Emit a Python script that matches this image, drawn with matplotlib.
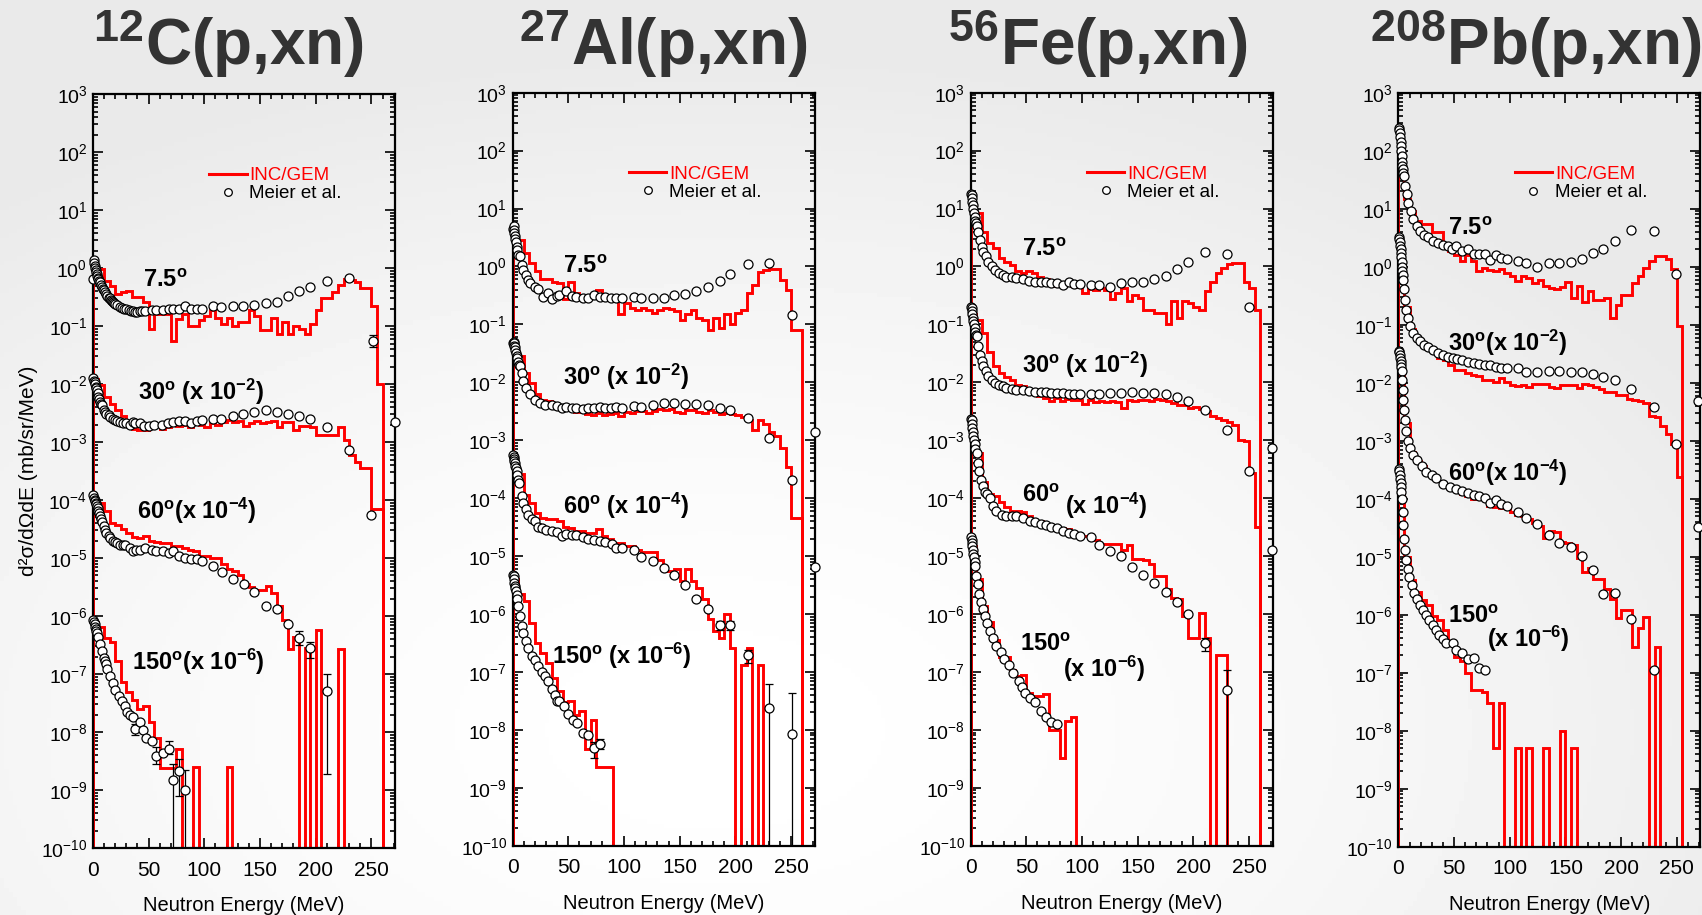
import numpy as np
import matplotlib
matplotlib.use('Agg')
import matplotlib.pyplot as plt
from matplotlib.ticker import LogLocator, MultipleLocator, NullFormatter
from matplotlib.lines import Line2D

plt.rcParams['font.family'] = ['Liberation Sans', 'DejaVu Sans']
plt.rcParams['mathtext.fontset'] = 'custom'
plt.rcParams['mathtext.rm'] = 'Liberation Sans:bold'
plt.rcParams['mathtext.it'] = 'Liberation Sans:bold:italic'
plt.rcParams['mathtext.bf'] = 'Liberation Sans:bold'

# histogram bins (MeV), 5 MeV wide
bin_edges = np.arange(0, 270, 5)

# ---------------- 12C ----------------
c_h7 = [1.1, 0.97, 0.61, 0.5, 0.36, 0.39, 0.4, 0.32, 0.32, 0.26,
        0.09, 0.16, 0.16, 0.16, 0.055, 0.13, 0.16, 0.1, 0.1, 0.125,
        0.15, 0.186, 0.14, 0.11, 0.14, 0.1, 0.117, 0.117, 0.186, 0.15,
        0.087, 0.087, 0.14, 0.074, 0.117, 0.074, 0.1, 0.09, 0.074, 0.11,
        0.19, 0.3, 0.3, 0.39, 0.52, 0.64, 0.62, 0.57, 0.46, 0.46,
        0.22, 0.01]
c_h30 = [0.012, 0.0095, 0.006, 0.0045, 0.0035, 0.0028, 0.0022, 0.0017, 0.0016, 0.0016,
         0.0018, 0.0019, 0.0017, 0.0018, 0.002, 0.0019, 0.002, 0.0018, 0.0021, 0.002,
         0.0018, 0.0021, 0.002, 0.0022, 0.0024, 0.0022, 0.0023, 0.0019, 0.0021, 0.0023,
         0.0021, 0.0022, 0.0023, 0.0018, 0.0022, 0.0022, 0.0016, 0.0019, 0.0019, 0.0018,
         0.0013, 0.0013, 0.0013, 0.0013, 0.0018, 0.0011, 0.0006, 0.00045, 0.00035, 0.00035,
         7e-5, 7e-5]
c_h60 = [1e-4, 9e-5, 6.5e-5, 4e-5, 3.7e-5, 3.2e-5, 2.7e-5, 2.3e-5, 2.2e-5, 2.4e-5,
         2e-5, 1.9e-5, 1.8e-5, 1.8e-5, 1.6e-5, 1.6e-5, 1.5e-5, 1.4e-5, 1.3e-5, 1.1e-5,
         1.1e-5, 1.0e-5, 1.0e-5, 8e-6, 6.5e-6, 6e-6, 5e-6, 3.6e-6, 3.2e-6, 2.8e-6,
         2.8e-6, 3.3e-6, 2.5e-6, 1.5e-6, 8.5e-7, 2.7e-7, 4.4e-7, 0, 2.8e-7, 0,
         5.8e-7, 0, 0, 0, 2.7e-7]
c_h150 = [8e-7, 6.4e-7, 4.1e-7, 3.5e-7, 1.7e-7, 7.3e-8, 4.9e-8, 3.6e-8, 2.5e-8, 2.8e-8,
          1.5e-8, 8e-9, 2.4e-9, 2.4e-9, 2.4e-9, 5e-9, 0, 0, 2.5e-9, 0,
          0, 0, 0, 0, 2.5e-9]

c_e7 = [0.5, 0.8, 1.2, 1.6, 2.0, 2.5, 3.0, 3.5, 4.0, 4.5, 5.0, 5.5, 6.0, 7.0, 8.0, 9, 10, 11, 12, 13,
        14, 15, 16, 17, 18, 19, 20, 22, 24, 26, 28, 30, 32, 34, 36, 38, 40, 42, 44, 47,
        53, 57, 63, 68, 72, 77, 83, 88, 93, 98, 108, 115, 126, 135, 145, 155, 165, 175, 185, 195,
        210, 230, 251]
c_v7 = [0.65, 1.35, 1.2, 1.1, 1.0, 0.92, 0.85, 0.78, 0.72, 0.68, 0.64, 0.6, 0.57, 0.52, 0.48, 0.44, 0.42, 0.38, 0.36, 0.33,
        0.31, 0.3, 0.28, 0.27, 0.26, 0.25, 0.24, 0.23, 0.215, 0.205, 0.2, 0.195, 0.19, 0.185, 0.18, 0.178, 0.175, 0.18, 0.18, 0.185,
        0.19, 0.19, 0.19, 0.2, 0.2, 0.2, 0.22, 0.2, 0.2, 0.2, 0.22, 0.21, 0.22, 0.22, 0.23, 0.25, 0.26, 0.33, 0.40, 0.48,
        0.6, 0.67, 0.055]
c_e30 = [0.5, 1.0, 1.5, 2.0, 2.5, 3.0, 3.6, 4.2, 5.0, 5.8, 6.6, 7.3, 8.0, 9.5, 11, 12, 14, 15.5, 18, 20,
         22, 24.5, 27, 30, 33, 36, 38, 42, 46, 50, 55, 62, 67, 72, 77, 83, 88, 93, 98, 108,
         115, 126, 135, 145, 155, 165, 175, 185, 195, 210, 230, 250, 271]
c_v30 = [0.0125, 0.0115, 0.011, 0.01, 0.009, 0.0085, 0.0078, 0.007, 0.006, 0.0055, 0.0049, 0.0046, 0.0043, 0.0035, 0.0033, 0.0031, 0.0029, 0.0027, 0.0025, 0.0024,
         0.0023, 0.0022, 0.0021, 0.0021, 0.002, 0.0022, 0.0021, 0.0021, 0.0019, 0.0019, 0.002, 0.002, 0.0021, 0.0022, 0.0023, 0.0023, 0.0021, 0.0023, 0.0024, 0.0025,
         0.0025, 0.0028, 0.003, 0.0033, 0.0035, 0.0033, 0.0031, 0.0028, 0.0025, 0.0018, 0.00072, 5.5e-5, 0.0022]
c_e60 = [0.5, 1.0, 1.5, 2.0, 2.5, 3.0, 3.6, 4.2, 5.0, 5.8, 6.6, 7.5, 8.5, 9.5, 11, 12, 14, 15.5, 18, 20,
         22, 24.5, 27, 29, 33, 36, 39, 42, 47, 53, 57, 63, 68, 72, 77, 83, 88, 93, 98, 108,
         115.5, 126, 135.5, 145, 155, 165, 175, 185, 195, 210]
c_v60 = [1.2e-4, 1.1e-4, 1e-4, 9.5e-5, 9e-5, 8.5e-5, 8e-5, 7.4e-5, 6.6e-5, 6e-5, 5.4e-5, 4.8e-5, 4.2e-5, 3.5e-5, 3e-5, 2.7e-5, 2.4e-5, 2.2e-5, 2e-5, 1.9e-5,
         1.8e-5, 1.7e-5, 1.7e-5, 1.7e-5, 1.5e-5, 1.3e-5, 1.4e-5, 1.4e-5, 1.5e-5, 1.4e-5, 1.3e-5, 1.3e-5, 1.2e-5, 1.3e-5, 1.1e-5, 1.0e-5, 9.8e-6, 9.8e-6, 8.8e-6, 7.4e-6,
         5.8e-6, 4.4e-6, 3.6e-6, 2.6e-6, 1.5e-6, 1.3e-6, 7.4e-7, 4.2e-7, 2.8e-7, 5.1e-8]
c_e150 = [0.5, 1.0, 1.5, 2.0, 2.5, 3.0, 4.0, 5.0, 6.6, 8.0, 9.5, 11, 12, 13, 15.5, 18, 20, 23, 26, 29,
          30.5, 33, 36, 38, 42, 45, 48, 53, 57, 63, 68, 72, 77, 83]
c_v150 = [8.4e-7, 7.8e-7, 7.2e-7, 6.6e-7, 6e-7, 5.5e-7, 5e-7, 4.4e-7, 3.3e-7, 2.5e-7, 1.9e-7, 1.7e-7, 1.5e-7, 1.2e-7, 9.3e-8, 7.1e-8, 5.4e-8, 4.1e-8, 3.4e-8, 2.8e-8,
          2.2e-8, 2e-8, 1.8e-8, 1.15e-8, 1.5e-8, 1.1e-8, 7.8e-9, 6.9e-9, 3.8e-9, 4.3e-9, 5e-9, 1.5e-9, 2.1e-9, 1e-9]
# error bars: (energy, value, low, high); low 0 = off the bottom of the axis
c_err = [(251, 0.055, 0.044, 0.069), (185, 4.2e-7, 3.2e-7, 5.5e-7), (195, 2.8e-7, 1.9e-7, 3.6e-7),
         (210, 5.1e-8, 1.9e-9, 1e-7), (38, 1.15e-8, 9e-9, 1.4e-8), (57, 3.8e-9, 2.8e-9, 5.5e-9),
         (68, 5e-9, 4.1e-9, 7e-9), (72, 1.5e-9, 0, 2.8e-9), (77, 2.1e-9, 8e-10, 3.4e-9), (83, 1e-9, 0, 2.2e-9)]

# ---------------- 27Al ----------------
a_h7 = [3.5, 2.9, 1.7, 1.17, 0.82, 0.6, 0.6, 0.53, 0.52, 0.27,
        0.55, 0.35, 0.28, 0.28, 0.32, 0.39, 0.3, 0.28, 0.25, 0.15,
        0.23, 0.19, 0.18, 0.19, 0.18, 0.16, 0.18, 0.19, 0.185, 0.17,
        0.12, 0.15, 0.18, 0.13, 0.12, 0.08, 0.13, 0.087, 0.15, 0.1,
        0.157, 0.18, 0.35, 0.48, 0.8, 0.87, 0.9, 0.9, 0.59, 0.4,
        0.08, 0.08]
a_h30 = [0.04, 0.028, 0.0145, 0.0098, 0.0062, 0.005, 0.0047, 0.0041, 0.0034, 0.0034,
         0.0034, 0.0031, 0.0033, 0.0028, 0.0027, 0.003, 0.0027, 0.0028, 0.003, 0.0026,
         0.0031, 0.003, 0.0032, 0.0032, 0.003, 0.0032, 0.0034, 0.0033, 0.0034, 0.0031,
         0.0029, 0.0033, 0.0033, 0.0031, 0.003, 0.0033, 0.0031, 0.0028, 0.0029, 0.0028,
         0.0027, 0.0025, 0.0022, 0.0015, 0.0022, 0.0019, 0.0014, 0.0012, 0.00074, 0.00035,
         4.5e-5, 4.5e-5]
a_h60 = [3e-4, 2.6e-4, 1.15e-4, 8.2e-5, 5.5e-5, 4.5e-5, 4.3e-5, 4.3e-5, 4e-5, 3.2e-5,
         3e-5, 2.7e-5, 2.7e-5, 2.5e-5, 2.5e-5, 2.9e-5, 2.2e-5, 2.0e-5, 1.7e-5, 1.7e-5,
         1.5e-5, 1.5e-5, 1.3e-5, 1.2e-5, 1.2e-5, 1.2e-5, 8.6e-6, 5.5e-6, 5.5e-6, 6e-6,
         3.7e-6, 6e-6, 3.7e-6, 2.8e-6, 1.8e-6, 8.1e-7, 5e-7, 3.8e-7, 1.0e-6, 2.6e-7,
         0, 1.3e-7, 2.6e-7, 0, 1.3e-7]
a_h150 = [4e-6, 2.2e-6, 1.65e-6, 6.9e-7, 3.2e-7, 2.15e-7, 1.4e-7, 7.9e-8, 4.7e-8, 3e-8,
          3.1e-8, 1.8e-8, 2.1e-8, 4.7e-9, 1.5e-8, 2.3e-9, 2.3e-9, 2.3e-9]

a_e7 = [0.5, 0.8, 1.2, 1.6, 2.0, 2.5, 3.0, 3.5, 4.0, 5.0, 6.6, 8.0, 9.5, 12, 14, 15.5, 20, 23, 27.5, 32,
        35, 39.5, 42, 48, 53, 57, 63, 68, 73, 78, 83, 88, 93, 98, 109, 115.5, 126, 136, 145, 155,
        165, 175, 186, 195.5, 211, 230, 251]
a_v7 = [4.5, 4.9, 4.3, 3.8, 3.4, 3.0, 2.6, 2.2, 1.9, 1.6, 1.5, 1.07, 0.88, 0.72, 0.59, 0.52, 0.45, 0.41, 0.30, 0.35,
        0.27, 0.31, 0.32, 0.37, 0.31, 0.3, 0.29, 0.28, 0.32, 0.3, 0.3, 0.29, 0.29, 0.29, 0.30, 0.28, 0.28, 0.29, 0.32, 0.34,
        0.38, 0.44, 0.56, 0.73, 1.1, 1.13, 0.147]
a_e30 = [0.5, 0.8, 1.2, 1.6, 2.0, 2.5, 3.0, 3.5, 4.2, 5.0, 6.0, 6.6, 8.0, 9.5, 12, 15.5, 20, 24.5, 29, 35,
         39.5, 44, 48, 53, 57, 63, 68, 73, 78, 83, 88, 93, 98, 109, 115.5, 126, 136, 145, 155, 165,
         175, 186, 195.5, 211, 230, 251, 271]
a_v30 = [0.048, 0.05, 0.047, 0.043, 0.04, 0.036, 0.032, 0.028, 0.026, 0.022, 0.02, 0.019, 0.0145, 0.0105, 0.008, 0.0062, 0.005, 0.0044, 0.0041, 0.004,
         0.0039, 0.0036, 0.0037, 0.0036, 0.0036, 0.0035, 0.0036, 0.0036, 0.0037, 0.0036, 0.0036, 0.0037, 0.0036, 0.0039, 0.0037, 0.0041, 0.0044, 0.0044, 0.0043, 0.0042,
         0.004, 0.0036, 0.0033, 0.0024, 0.0011, 0.00021, 0.0014]
a_e60 = [0.5, 0.8, 1.2, 1.6, 2.0, 2.5, 3.0, 3.5, 4.0, 5.0, 6.0, 8.0, 9.5, 12, 14, 17, 20, 23, 26, 30,
         35, 39.5, 44, 48, 53, 57, 63, 68, 73, 78, 83, 89, 93, 98, 109, 115.5, 126, 136, 145, 155,
         165, 175, 186, 195.5, 211, 230, 251, 271]
a_v60 = [5.6e-4, 5.2e-4, 4.8e-4, 4.4e-4, 4e-4, 3.6e-4, 3.3e-4, 2.9e-4, 2.5e-4, 2.1e-4, 1.8e-4, 1.07e-4, 8.4e-5, 6.6e-5, 5.2e-5, 4.3e-5, 4e-5, 3.2e-5, 3.1e-5, 2.8e-5,
         2.7e-5, 2.6e-5, 2.2e-5, 2.4e-5, 2.3e-5, 2.3e-5, 2.1e-5, 2e-5, 1.9e-5, 1.85e-5, 1.75e-5, 1.6e-5, 1.4e-5, 1.4e-5, 1.25e-5, 9.8e-6, 8.2e-6, 6.2e-6, 4.7e-6, 3.2e-6,
         1.8e-6, 1.2e-6, 6.4e-7, 6.4e-7, 2e-7, 2.4e-8, 8.5e-9, 6.5e-6]
a_e150 = [0.5, 0.8, 1.2, 1.6, 2.0, 2.5, 3.0, 3.5, 4.0, 5.0, 6.6, 8.0, 9.5, 12, 14, 17, 20, 23, 26, 29,
          32, 35, 38, 40, 42, 46, 50, 54, 58, 63, 68, 73, 78]
a_v150 = [4.8e-6, 4.5e-6, 4e-6, 3.5e-6, 3.1e-6, 2.8e-6, 2.5e-6, 2.1e-6, 1.8e-6, 1.35e-6, 9.2e-7, 6.3e-7, 4.7e-7, 3.4e-7, 2.6e-7, 1.9e-7, 1.6e-7, 1.25e-7, 1e-7, 8.5e-8,
          6.9e-8, 5e-8, 4e-8, 3.1e-8, 3.2e-8, 2.6e-8, 1.9e-8, 1.5e-8, 1.3e-8, 9e-9, 8.2e-9, 4.9e-9, 5.8e-9]
a_err = [(186, 6.4e-7, 5.4e-7, 7.6e-7), (195.5, 6.4e-7, 5.4e-7, 7.6e-7), (211, 2e-7, 1.4e-7, 2.4e-7),
         (230, 2.4e-8, 0, 6.2e-8), (251, 8.5e-9, 0, 4.3e-8), (73, 4.9e-9, 3.3e-9, 6.1e-9), (78, 5.8e-9, 4.7e-9, 7e-9)]

# ---------------- 56Fe ----------------
f_h7 = [12, 8.3, 4.0, 2.5, 2.1, 1.4, 1.2, 1.07, 0.82, 0.77,
        0.85, 0.77, 0.67, 0.6, 0.52, 0.46, 0.46, 0.48, 0.46, 0.44,
        0.35, 0.41, 0.4, 0.42, 0.4, 0.27, 0.35, 0.42, 0.25, 0.32,
        0.28, 0.18, 0.18, 0.157, 0.16, 0.1, 0.25, 0.13, 0.25, 0.23,
        0.2, 0.18, 0.37, 0.55, 0.77, 0.94, 1.1, 1.14, 1.14, 0.55,
        0.42, 0.18]
f_h30 = [0.15, 0.12, 0.07, 0.034, 0.019, 0.0145, 0.0126, 0.011, 0.0091, 0.0085,
         0.0075, 0.007, 0.0057, 0.0054, 0.0047, 0.0054, 0.0047, 0.0051, 0.0049, 0.0049,
         0.0043, 0.005, 0.0046, 0.0047, 0.0046, 0.0047, 0.0046, 0.0036, 0.0049, 0.0048,
         0.005, 0.0049, 0.0048, 0.0051, 0.005, 0.0047, 0.0044, 0.0041, 0.0041, 0.0036,
         0.0037, 0.0034, 0.0032, 0.0026, 0.0024, 0.0022, 0.0021, 0.0018, 0.001, 0.00096,
         0.00027, 3.2e-5]
f_h60 = [1.5e-3, 6e-4, 1.9e-4, 1.2e-4, 1.1e-4, 8.5e-5, 7e-5, 6e-5, 5.9e-5, 5.8e-5,
         5e-5, 4.2e-5, 4e-5, 3.6e-5, 3.4e-5, 3.1e-5, 3e-5, 2.9e-5, 2.6e-5, 2.4e-5,
         2.2e-5, 2.1e-5, 1.9e-5, 1.6e-5, 1.6e-5, 1.6e-5, 1.6e-5, 1.3e-5, 1.55e-5, 8.8e-6,
         9e-6, 8.5e-6, 7.4e-6, 4.6e-6, 4.6e-6, 2.7e-6, 1.9e-6, 1.8e-6, 9.3e-7, 3.9e-7,
         3.9e-7, 1.05e-6, 3.9e-7, 0, 2e-7, 2e-7]
f_h150 = [1.5e-5, 4e-6, 1.4e-6, 7.4e-7, 3.5e-7, 1.8e-7, 1.8e-7, 1.1e-7, 8.5e-8, 9e-8,
          4.4e-8, 3.9e-8, 3.9e-8, 4.1e-8, 1.0e-8, 1.0e-8, 3.3e-9, 1.4e-8, 1.7e-8]

f_e7 = [0.5, 0.8, 1.2, 1.6, 2.0, 2.5, 3.0, 3.5, 4.0, 4.5, 5.4, 7, 8.4, 10, 11, 14, 16, 19, 22, 25,
        29, 32, 37, 41, 47, 52.5, 57.6, 63, 68, 72.5, 77.6, 83, 88, 92.5, 98, 108, 115, 125, 135, 145,
        155, 165, 175, 185, 195.5, 210, 230, 250]
f_v7 = [18, 17, 15, 13, 11.5, 10, 8.5, 7.2, 6.2, 5.6, 5.0, 4.0, 2.9, 2.2, 1.8, 1.5, 1.2, 1.0, 0.88, 0.77,
        0.71, 0.67, 0.65, 0.63, 0.6, 0.57, 0.55, 0.54, 0.53, 0.52, 0.52, 0.48, 0.53, 0.5, 0.5, 0.48, 0.48, 0.45, 0.52, 0.53,
        0.55, 0.61, 0.69, 0.9, 1.19, 1.77, 1.63, 0.196]
f_e30 = [0.5, 0.8, 1.2, 1.6, 2.0, 2.5, 3.0, 3.5, 4.0, 4.5, 5.4, 7, 8.4, 10, 11, 14, 16, 19, 22, 25,
         29, 32, 37, 41, 47, 52.5, 57.6, 63, 68, 72.5, 77.6, 83, 88, 92.5, 98, 108, 115, 125, 135, 145,
         155, 165, 175, 185, 195.5, 210, 230, 250, 270.5]
f_v30 = [0.2, 0.19, 0.17, 0.15, 0.13, 0.115, 0.1, 0.085, 0.075, 0.065, 0.062, 0.042, 0.03, 0.023, 0.019, 0.0157, 0.0127, 0.011, 0.0098, 0.0091,
         0.0085, 0.008, 0.0077, 0.0075, 0.0073, 0.007, 0.0068, 0.0067, 0.0067, 0.0065, 0.0065, 0.0065, 0.0064, 0.0064, 0.0064, 0.0064, 0.0064, 0.0065, 0.0065, 0.0067,
         0.0065, 0.0065, 0.0063, 0.0056, 0.0048, 0.0033, 0.0015, 2.9e-4, 7.4e-4]
f_e60 = [0.5, 0.8, 1.2, 1.6, 2.0, 2.5, 3.0, 3.5, 4.0, 5.4, 6.3, 7.8, 9.3, 10.7, 12.8, 14.3, 17, 20, 23, 28,
         32, 37, 41, 47, 53, 57.6, 63, 68, 72.5, 77.6, 83, 88, 92.5, 98, 108, 115, 125, 135, 145, 155,
         165, 175, 185, 195.5, 210, 230, 270.5]
f_v60 = [2.3e-3, 2.2e-3, 1.9e-3, 1.6e-3, 1.4e-3, 1.2e-3, 1.0e-3, 8.5e-4, 7e-4, 6e-4, 4.1e-4, 2.9e-4, 2.1e-4, 1.6e-4, 1.3e-4, 1.2e-4, 1e-4, 7.3e-5, 6e-5, 5.2e-5,
         4.9e-5, 4.9e-5, 5.0e-5, 4.5e-5, 4.1e-5, 3.9e-5, 3.6e-5, 3.5e-5, 3.2e-5, 3e-5, 2.7e-5, 2.5e-5, 2.4e-5, 2.2e-5, 2.1e-5, 1.56e-5, 1.24e-5, 1e-5, 6.6e-6, 4.8e-6,
         3.5e-6, 2.4e-6, 1.6e-6, 1e-6, 3.2e-7, 4.8e-8, 1.3e-5]
f_e150 = [0.5, 0.8, 1.2, 1.6, 2.0, 2.5, 3.0, 3.5, 4.0, 4.8, 6.3, 7.8, 9.3, 10.7, 12.8, 15, 17, 20, 23, 27,
          30, 34, 38, 43, 46, 49, 53, 57.6, 63, 68, 72.5, 77.6]
f_v150 = [2.1e-5, 1.9e-5, 1.7e-5, 1.5e-5, 1.3e-5, 1.1e-5, 9.5e-6, 8e-6, 6.8e-6, 4.5e-6, 3.3e-6, 2.2e-6, 1.6e-6, 1.2e-6, 9.3e-7, 7.1e-7, 5.1e-7, 3.8e-7, 2.8e-7, 2.2e-7,
          1.7e-7, 1.3e-7, 9.6e-8, 7e-8, 5.4e-8, 4.3e-8, 3.5e-8, 3e-8, 2.1e-8, 1.65e-8, 1.35e-8, 1.27e-8]
f_err = [(210, 3.2e-7, 2.3e-7, 3.9e-7), (230, 4.8e-8, 0, 1.1e-7)]

# ---------------- 208Pb ----------------
p_h7 = [150, 15, 9, 6.2, 5.4, 5.4, 3.9, 3.9, 2.3, 1.87,
        1.6, 1.25, 1.6, 1.25, 0.84, 0.95, 0.88, 0.84, 0.9, 0.79,
        0.69, 0.56, 0.69, 0.65, 0.53, 0.6, 0.46, 0.43, 0.42, 0.45,
        0.54, 0.29, 0.46, 0.25, 0.38, 0.27, 0.27, 0.29, 0.13, 0.22,
        0.33, 0.33, 0.53, 0.69, 0.96, 1.25, 1.53, 1.53, 1.34, 0.9,
        0.094]
p_h30 = [1.3, 0.2, 0.083, 0.06, 0.045, 0.038, 0.033, 0.027, 0.025, 0.0205,
         0.0168, 0.0168, 0.0147, 0.0137, 0.0129, 0.0112, 0.0112, 0.0105, 0.0123, 0.0105,
         0.0093, 0.0089, 0.0093, 0.0086, 0.0096, 0.0096, 0.0096, 0.0085, 0.0081, 0.0093,
         0.0093, 0.0093, 0.0081, 0.0096, 0.0093, 0.0086, 0.0078, 0.0068, 0.0068, 0.0062,
         0.0062, 0.0052, 0.0051, 0.0048, 0.0045, 0.0027, 0.0026, 0.0018, 0.0013, 0.00088,
         0.00024]
p_h60 = [0.014, 0.002, 6.5e-4, 4.5e-4, 3.6e-4, 2.8e-4, 2.4e-4, 2.0e-4, 1.7e-4, 1.5e-4,
         1.35e-4, 1.2e-4, 1.1e-4, 1.0e-4, 9.8e-5, 9.8e-5, 7.6e-5, 7.1e-5, 6.8e-5, 6.8e-5,
         5.9e-5, 5.2e-5, 5e-5, 4.4e-5, 3.8e-5, 3.4e-5, 2.1e-5, 2.8e-5, 2.7e-5, 1.8e-5,
         1.75e-5, 1.6e-5, 9.5e-6, 5.5e-6, 6.3e-6, 4.1e-6, 4.1e-6, 2.8e-6, 1.9e-6, 8.7e-7,
         1.2e-6, 1.2e-6, 2.8e-7, 5.9e-7, 9.1e-7, 0, 2.8e-7]
p_h150 = [1.5e-4, 1e-5, 4e-6, 2.5e-6, 1.8e-6, 1.5e-6, 9.7e-7, 8.1e-7, 5.5e-7, 3.5e-7,
          1.9e-7, 1.6e-7, 9.9e-8, 5e-8, 5e-8, 4.7e-8, 3e-8, 5e-9, 3e-8, 0,
          0, 5e-9, 0, 5e-9, 0, 0, 5e-9, 0, 0, 1e-8,
          0, 5e-9]

p_e7 = [0.5, 0.8, 1.2, 1.6, 2.0, 2.3, 2.6, 3.0, 3.3, 3.6, 4.0, 4.5, 5.0, 6.0, 7.5, 9.0, 11, 13.4, 16.4, 19.4,
        23, 27, 31, 36, 40, 45, 48, 52, 57.5, 62.6, 67.7, 72.4, 77.5, 82.6, 87.3, 92.4, 97.8, 107.6, 114.8, 124.6,
        135, 144.6, 154.7, 164.5, 174.4, 184, 194.6, 209, 229.5, 249.5]
p_v7 = [250, 230, 200, 170, 140, 120, 100, 80, 65, 55, 48, 42, 37, 25, 18, 12.8, 9.2, 6.6, 5.0, 4.1,
        3.6, 3.2, 2.8, 2.6, 2.4, 2.3, 2.0, 2.3, 1.87, 2.0, 1.63, 1.63, 1.63, 1.3, 1.57, 1.43, 1.34, 1.25, 1.17, 0.99,
        1.17, 1.17, 1.22, 1.37, 1.7, 2.0, 2.8, 4.3, 4.1, 0.74]
p_e30 = [0.5, 0.8, 1.2, 1.6, 2.0, 2.3, 2.6, 3.0, 3.3, 3.6, 4.0, 4.5, 5.0, 6.0, 6.9, 8.3, 10.4, 12.8, 16.4, 19.4,
         23, 27, 31, 36, 40, 45, 49, 53, 57.5, 62.6, 67.7, 72.4, 77.5, 82.6, 87.3, 92.4, 97.8, 107.6, 114.8, 124.6,
         135, 144.6, 154.7, 164.5, 174.4, 184, 194.6, 209, 229.5, 249.5, 269]
p_v30 = [3.2, 3.0, 2.7, 2.3, 2.0, 1.7, 1.5, 1.2, 1.0, 0.85, 0.72, 0.6, 0.41, 0.27, 0.18, 0.13, 0.094, 0.072, 0.059, 0.052,
         0.045, 0.041, 0.037, 0.033, 0.03, 0.028, 0.027, 0.026, 0.025, 0.023, 0.022, 0.021, 0.02, 0.02, 0.019, 0.018, 0.0177, 0.018, 0.0153, 0.0153,
         0.0157, 0.0157, 0.0155, 0.0153, 0.0144, 0.0125, 0.011, 0.0078, 0.0038, 0.00089, 0.0048]
p_e60 = [0.5, 0.8, 1.2, 1.6, 2.0, 2.3, 2.6, 3.0, 3.5, 3.9, 4.5, 5.0, 6.0, 6.9, 8.3, 10.4, 12.8, 16.4, 21, 25,
         30, 34, 40, 46, 52, 57.5, 62.6, 67.7, 72.4, 77.5, 82.6, 87.3, 92.4, 97.8, 107.6, 114.8, 124.6, 135, 144.6, 154.7,
         164.5, 174.4, 184, 194.6, 209, 229.5, 269]
p_v60 = [0.035, 0.034, 0.03, 0.027, 0.024, 0.021, 0.019, 0.016, 0.011, 0.0076, 0.005, 0.0034, 0.0023, 0.0015, 0.001, 7.4e-4, 5.7e-4, 4.6e-4, 3.6e-4, 2.9e-4,
         2.6e-4, 2.3e-4, 1.8e-4, 1.6e-4, 1.45e-4, 1.35e-4, 1.25e-4, 1.15e-4, 1.1e-4, 1.05e-4, 8.4e-5, 9.4e-5, 8e-5, 7.6e-5, 5.9e-5, 4.6e-5, 3.7e-5, 2.4e-5, 1.75e-5, 1.5e-5,
         1.05e-5, 5.8e-6, 2.3e-6, 2.4e-6, 8.5e-7, 1.1e-7, 3.2e-5]
p_e150 = [0.5, 0.8, 1.2, 1.6, 2.0, 2.3, 2.6, 3.0, 3.9, 4.5, 5.0, 6.0, 6.9, 8.3, 9.8, 12, 14, 16.4, 19.4, 21.8,
          24.7, 27.7, 30.7, 33.7, 36.7, 40, 43, 48.6, 52, 57.5, 62.6, 67.7, 72.4, 77.5]
p_v150 = [3.3e-4, 3e-4, 2.6e-4, 2.2e-4, 1.9e-4, 1.6e-4, 1.3e-4, 9.8e-5, 5.9e-5, 3.5e-5, 2e-5, 1.3e-5, 8.9e-6, 6.1e-6, 4.4e-6, 3.2e-6, 2.4e-6, 1.9e-6, 1.5e-6, 1.2e-6,
          9.8e-7, 8.1e-7, 6.6e-7, 5.4e-7, 4.5e-7, 3.8e-7, 3.3e-7, 3.2e-7, 2.5e-7, 2.2e-7, 1.7e-7, 1.8e-7, 1.2e-7, 1.1e-7]
p_err = []

titles = [r'$^{12}$C(p,xn)', r'$^{27}$Al(p,xn)', r'$^{56}$Fe(p,xn)', r'$^{208}$Pb(p,xn)']

panels = [
    dict(hists=[c_h7, c_h30, c_h60, c_h150],
         data=[(c_e7, c_v7), (c_e30, c_v30), (c_e60, c_v60), (c_e150, c_v150)], err=c_err),
    dict(hists=[a_h7, a_h30, a_h60, a_h150],
         data=[(a_e7, a_v7), (a_e30, a_v30), (a_e60, a_v60), (a_e150, a_v150)], err=a_err),
    dict(hists=[f_h7, f_h30, f_h60, f_h150],
         data=[(f_e7, f_v7), (f_e30, f_v30), (f_e60, f_v60), (f_e150, f_v150)], err=f_err),
    dict(hists=[p_h7, p_h30, p_h60, p_h150],
         data=[(p_e7, p_v7), (p_e30, p_v30), (p_e60, p_v60), (p_e150, p_v150)], err=p_err),
]

# angle labels: (x, y, text) in data coordinates
deg = r'$^{\mathrm{o}}$'
labels = [
    [(45, 0.62, '7.5' + deg), (40.6, 7.2e-3, '30' + deg + r' (x 10$^{-2}$)'),
     (39.6, 6.5e-5, '60' + deg + r'(x 10$^{-4}$)'), (35, 1.6e-7, '150' + deg + r'(x 10$^{-6}$)')],
    [(45, 1.0, '7.5' + deg), (45, 0.0125, '30' + deg + r' (x 10$^{-2}$)'),
     (45, 7.5e-5, '60' + deg + r' (x 10$^{-4}$)'), (35, 1.9e-7, '150' + deg + r' (x 10$^{-6}$)')],
    [(45.7, 2.0, '7.5' + deg), (45.7, 0.02, '30' + deg + r' (x 10$^{-2}$)'),
     (45.7, 1.1e-4, '60' + deg), (84.5, 7.5e-5, r'(x 10$^{-4}$)'),
     (44, 3e-7, '150' + deg), (83, 1.15e-7, r'(x 10$^{-6}$)')],
    [(44.5, 4.6, '7.5' + deg), (44.5, 0.048, '30' + deg + r'(x 10$^{-2}$)'),
     (44.5, 2.8e-4, '60' + deg + r'(x 10$^{-4}$)'),
     (44.5, 9.5e-7, '150' + deg), (80, 3.9e-7, r'(x 10$^{-6}$)')],
]

fig = plt.figure(figsize=(17.02, 9.15), dpi=100)

# soft grey background like the slide
gx, gy = np.meshgrid(np.linspace(0, 1, 400), np.linspace(0, 1, 200))
r = np.hypot((gx - 0.42) * 1.1, (gy - 0.2) * 1.0)
bg = 1 - 0.085 * np.clip(r / 0.75, 0, 1) ** 1.6
bg_ax = fig.add_axes([0, 0, 1, 1], zorder=-10)
bg_ax.imshow(bg, cmap='gray', vmin=0, vmax=1, extent=[0, 1, 0, 1], aspect='auto', origin='lower')
bg_ax.axis('off')

ax_rects = [[0.0546, 0.0732, 0.1774, 0.824],
            [0.3012, 0.0757, 0.1774, 0.823],
            [0.5703, 0.0757, 0.1774, 0.823],
            [0.8216, 0.0746, 0.1774, 0.824]]
title_x = [93, 519, 948, 1370]

floor = 1e-12
for i, p in enumerate(panels):
    ax = fig.add_axes(ax_rects[i])
    ax.set_facecolor('none')
    for h in p['hists']:
        h = np.asarray(h, dtype=float)
        vals = np.append(np.where(h > 0, h, floor), floor)
        ax.stairs(vals, bin_edges[:len(vals) + 1], color='#ff0000', lw=2.1, zorder=2)
    if p['err']:
        ee = np.array([t[0] for t in p['err']])
        vv = np.array([t[1] for t in p['err']])
        lo = np.array([max(t[2], floor) for t in p['err']])
        hi = np.array([t[3] for t in p['err']])
        ax.errorbar(ee, vv, yerr=[vv - lo, hi - vv], fmt='none', ecolor='black',
                    elinewidth=0.9, capsize=3, capthick=0.9, zorder=2.5)
    for e, v in p['data']:
        ax.plot(e, v, 'o', ms=6.5, mfc='white', mec='black', mew=0.9, zorder=3, clip_on=False)

    ax.set_yscale('log')
    ax.set_ylim(1e-10, 1e3)
    ax.set_xlim(0, 271)
    ax.yaxis.set_major_locator(LogLocator(base=10, numticks=30))
    ax.yaxis.set_minor_locator(LogLocator(base=10, subs=np.arange(2, 10) * 1.0, numticks=300))
    ax.yaxis.set_minor_formatter(NullFormatter())
    ax.xaxis.set_major_locator(MultipleLocator(50))
    ax.xaxis.set_minor_locator(MultipleLocator(10))
    ax.tick_params(which='both', direction='in', top=True, right=True, width=1.2)
    ax.tick_params(which='major', length=7)
    ax.tick_params(which='minor', length=3.5)
    ax.tick_params(axis='x', labelsize=15, pad=9)
    ax.tick_params(axis='y', labelsize=14, pad=4)
    for s in ax.spines.values():
        s.set_linewidth(1.6)
    ax.set_xlabel('Neutron Energy (MeV)', fontsize=14.5, labelpad=12)

    for x, y, s in labels[i]:
        ax.text(x, y, s, fontsize=17, fontweight='bold', ha='left', va='center', zorder=5)

    handles = [Line2D([], [], color='#ff0000', lw=2.2),
               Line2D([], [], ls='none', marker='o', ms=5.5, mfc='white', mec='black', mew=0.9)]
    leg = ax.legend(handles, ['INC/GEM', 'Meier et al.'], loc='upper left',
                    bbox_to_anchor=(0.36, 0.913), frameon=False, fontsize=13.5,
                    handlelength=2.0, handletextpad=0.15, labelspacing=0.05, borderaxespad=0)
    leg.get_texts()[0].set_color('#ff0000')

    fig.text(title_x[i] / 1702, 1 - 43 / 915, titles[i], fontsize=46, fontweight='bold',
             color='#333333', ha='left', va='center')

fig.text(29 / 1702, 1 - 471 / 915, 'd²σ/dΩdE (mb/sr/MeV)', rotation=90,
         ha='center', va='center', fontsize=15)

fig.savefig('out.png', dpi=100)
